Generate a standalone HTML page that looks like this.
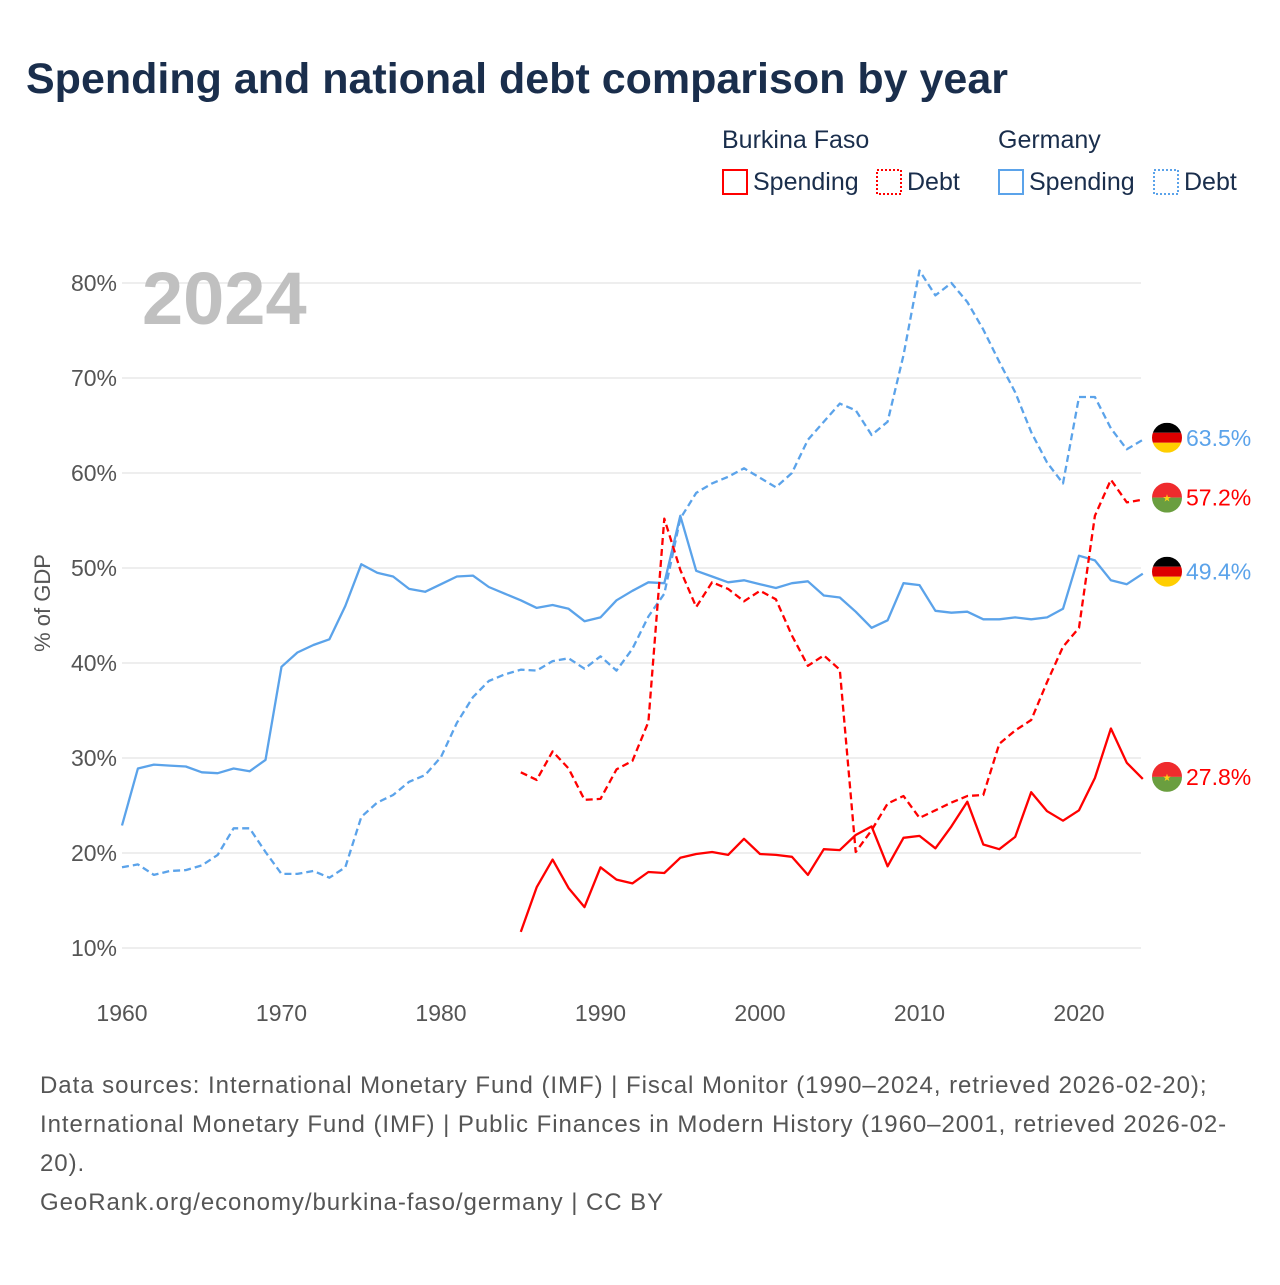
<!DOCTYPE html>
<html><head><meta charset="utf-8">
<style>
body{margin:0;width:1280px;height:1280px;background:#fff;font-family:"Liberation Sans",sans-serif;overflow:hidden}
#wrap{position:relative;width:1280px;height:1280px}
</style></head>
<body><div id="wrap">
<svg id="svg" width="1280" height="1280" xmlns="http://www.w3.org/2000/svg">
<text x="26" y="93" font-size="43" font-weight="bold" fill="#1a2e4c">Spending and national debt comparison by year</text>
<g font-size="25" fill="#1a2e4c">
<text x="722" y="148">Burkina Faso</text>
<text x="998" y="148">Germany</text>
<rect x="723" y="170" width="24" height="24" fill="none" stroke="#ff0000" stroke-width="2"/>
<text x="753" y="190">Spending</text>
<rect x="877" y="170" width="24" height="24" fill="none" stroke="#ff0000" stroke-width="2" stroke-dasharray="2,2"/>
<text x="907" y="190">Debt</text>
<rect x="999" y="170" width="24" height="24" fill="none" stroke="#5ba3ea" stroke-width="2"/>
<text x="1029" y="190">Spending</text>
<rect x="1154" y="170" width="24" height="24" fill="none" stroke="#5ba3ea" stroke-width="2" stroke-dasharray="2,2"/>
<text x="1184" y="190">Debt</text>
</g>
<g id="grid"></g>
<text x="142" y="324" font-size="74" font-weight="bold" fill="#c0c0c0">2024</text>
<text transform="translate(50,603) rotate(-90)" text-anchor="middle" font-size="22" fill="#555">% of GDP</text>
<g id="series"></g>
<g id="ends"></g>
<g font-size="24" fill="#555" letter-spacing="0.95">
<text x="40" y="1093">Data sources: International Monetary Fund (IMF) | Fiscal Monitor (1990–2024, retrieved 2026-02-20);</text>
<text x="40" y="1132">International Monetary Fund (IMF) | Public Finances in Modern History (1960–2001, retrieved 2026-02-</text>
<text x="40" y="1171">20).</text>
<text x="40" y="1210">GeoRank.org/economy/burkina-faso/germany | CC BY</text>
</g>
</svg>
</div>
<script>
const yTicks=[10,20,30,40,50,60,70,80];
const xTicks=[1960,1970,1980,1990,2000,2010,2020];
const deYears0=1960, bfYears0=1985;
const deSpending=[22.9,28.9,29.3,29.2,29.1,28.5,28.4,28.9,28.6,29.8,39.6,41.1,41.9,42.5,46.0,50.4,49.5,49.1,47.8,47.5,48.3,49.1,49.2,48.0,47.3,46.6,45.8,46.1,45.7,44.4,44.8,46.6,47.6,48.5,48.4,55.5,49.7,49.1,48.5,48.7,48.3,47.9,48.4,48.6,47.1,46.9,45.4,43.7,44.5,48.4,48.2,45.5,45.3,45.4,44.6,44.6,44.8,44.6,44.8,45.7,51.3,50.8,48.7,48.3,49.4];
const deDebt=[18.5,18.8,17.7,18.1,18.2,18.7,19.8,22.6,22.6,20.1,17.8,17.8,18.1,17.4,18.5,23.8,25.3,26.1,27.5,28.2,30.1,33.7,36.4,38.1,38.8,39.3,39.2,40.2,40.5,39.4,40.7,39.2,41.5,44.9,47.3,55.2,57.9,58.9,59.6,60.5,59.5,58.5,60.0,63.5,65.4,67.3,66.6,64.0,65.4,72.4,81.3,78.7,80.0,78.0,75.1,71.7,68.5,64.3,61.1,58.9,68.0,68.0,64.7,62.5,63.5];
const bfSpending=[11.7,16.4,19.3,16.3,14.3,18.5,17.2,16.8,18.0,17.9,19.5,19.9,20.1,19.8,21.5,19.9,19.8,19.6,17.7,20.4,20.3,21.9,22.8,18.6,21.6,21.8,20.5,22.8,25.4,20.9,20.4,21.7,26.4,24.4,23.4,24.5,27.9,33.1,29.5,27.8];
const bfDebt=[28.5,27.7,30.7,28.9,25.6,25.7,28.8,29.7,33.8,55.2,49.8,45.9,48.5,47.8,46.5,47.6,46.7,42.9,39.7,40.8,39.3,20.1,22.4,25.2,26.0,23.7,24.5,25.3,26.0,26.1,31.5,32.9,34.0,38.0,41.7,43.7,55.5,59.3,56.9,57.2];

const NS='http://www.w3.org/2000/svg';
const X=yr=>122+(yr-1960)*(957/60);
const Y=v=>948-(v-10)*9.5;
function mk(tag,attrs,parent){const e=document.createElementNS(NS,tag);for(const k in attrs)e.setAttribute(k,attrs[k]);parent.appendChild(e);return e;}
const grid=document.getElementById('grid');
yTicks.forEach(t=>{
  const l=mk('line',{x1:122,x2:1141,y1:Y(t),y2:Y(t),stroke:'#e8e8e8','stroke-width':1.5},grid);
  
  
  const tx=mk('text',{x:117,y:Y(t)+8,'text-anchor':'end','font-size':23,fill:'#555'},grid);
  tx.textContent=t+'%';
  
  
});
xTicks.forEach(t=>{
  const tx=mk('text',{x:X(t),y:1021,'text-anchor':'middle','font-size':23,fill:'#555'},grid);
  tx.textContent=t;
  
  
});
const sg=document.getElementById('series');
function line(vals,y0,color,dash,name){
  const d=vals.map((v,i)=>(i?'L':'M')+X(y0+i).toFixed(1)+','+Y(v).toFixed(1)).join(' ');
  const p=mk('path',{d:d,fill:'none',stroke:color,'stroke-width':2.3,'stroke-linejoin':'round'},sg);
  if(dash)p.setAttribute('stroke-dasharray','7,4');
  
  
}
line(deDebt,deYears0,'#5ba3ea',true,'germany-debt-line');
line(deSpending,deYears0,'#5ba3ea',false,'germany-spending-line');
line(bfDebt,bfYears0,'#ff0000',true,'burkina-debt-line');
line(bfSpending,bfYears0,'#ff0000',false,'burkina-spending-line');
const eg=document.getElementById('ends');
function flag(v,kind,color,name){
  const cx=1167,cy=Y(v)-2;
  const g=mk('g',{},eg);
  
  
  const cid='c'+name;
  const cp=mk('clipPath',{id:cid},g);mk('circle',{cx:cx,cy:cy,r:15},cp);
  const h=mk('g',{'clip-path':'url(#'+cid+')'},g);
  if(kind==='de'){
    mk('rect',{x:cx-15,y:cy-15,width:30,height:10,fill:'#000'},h);
    mk('rect',{x:cx-15,y:cy-5,width:30,height:10,fill:'#dd0000'},h);
    mk('rect',{x:cx-15,y:cy+5,width:30,height:10,fill:'#ffce00'},h);
  }else{
    mk('rect',{x:cx-15,y:cy-15,width:30,height:15,fill:'#ef2b2d'},h);
    mk('rect',{x:cx-15,y:cy,width:30,height:15,fill:'#6a9e3f'},h);
    mk('text',{x:cx,y:cy+4,'text-anchor':'middle','font-size':10,fill:'#fcd116'},h).textContent='★';
  }
  const t=mk('text',{x:1186,y:cy+8,'font-size':23,fill:color},eg);
  t.textContent=v.toFixed(1)+'%';
  
  
}
flag(deDebt[deDebt.length-1],'de','#5ba3ea','germany-debt');
flag(bfDebt[bfDebt.length-1],'bf','#ff0000','burkina-debt');
flag(deSpending[deSpending.length-1],'de','#5ba3ea','germany-spending');
flag(bfSpending[bfSpending.length-1],'bf','#ff0000','burkina-spending');
</script>
</body></html>
